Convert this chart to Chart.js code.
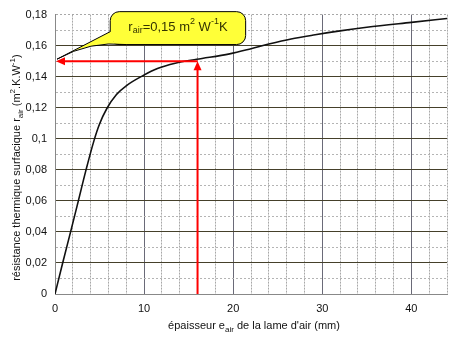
<!DOCTYPE html>
<html>
<head>
<meta charset="utf-8">
<script src="https://cdn.jsdelivr.net/npm/chart.js@4"></script>
<style>
  html, body { margin: 0; padding: 0; background: #fff; }
</style>
</head>
<body>
<canvas id="chart" width="455" height="343"></canvas>
<script>
// air gap thickness (mm) and surface thermal resistance (m².K/W)
const thickness = [0, 0.86, 1.75, 2.62, 3.44, 4.36, 5.0, 5.82, 6.9, 8.03, 9.87, 11.5, 13.5, 15.9, 19.6, 22, 24, 26.5, 29.2, 32, 35, 40, 44];
const resistance = [0, 0.02, 0.04, 0.06, 0.079, 0.0985, 0.1095, 0.1195, 0.1285, 0.1343, 0.1407, 0.1453, 0.1487, 0.1512, 0.1547, 0.158, 0.161, 0.1643, 0.167, 0.1695, 0.1718, 0.175, 0.1775];
const xLabels = [0, 10, 20, 30, 40];
const yLabels = [0, 0.02, 0.04, 0.06, 0.08, 0.1, 0.12, 0.14, 0.16, 0.18];

// read-off point marked with the red arrows
const markX = 16;
const markY = 0.15;

// callout bubble, in axis units
const bubble = { x0: 6.2, x1: 21.4, y0: 0.1607, y1: 0.1819 };

const FONT = "'Liberation Sans', Arial, sans-serif";

const isMajorX = v => Math.abs(v % 10) < 1e-6;
const isMajorY = v => Math.round(v * 100) % 2 === 0;

// text with subscript / superscript pieces: [text, 'sub'|'sup'|'']
function richText(ctx, parts, x, y, size) {
  const small = Math.round(size * 0.7);
  let total = 0;
  const widths = parts.map(([t, m]) => {
    ctx.font = (m ? small : size) + 'px ' + FONT;
    const w = ctx.measureText(t).width;
    total += w;
    return w;
  });
  let cx = x - total / 2;
  parts.forEach(([t, m], i) => {
    ctx.font = (m ? small : size) + 'px ' + FONT;
    const dy = m === 'sub' ? size * 0.3 : m === 'sup' ? -size * 0.4 : 0;
    ctx.fillText(t, cx, y + dy);
    cx += widths[i];
  });
}

function arrowHead(ctx, x, y, dir) {
  // dir: 'up' or 'left'
  ctx.beginPath();
  if (dir === 'up') {
    ctx.moveTo(x, y);
    ctx.lineTo(x - 4, y + 9);
    ctx.lineTo(x + 4, y + 9);
  } else {
    ctx.moveTo(x, y);
    ctx.lineTo(x + 9, y - 4);
    ctx.lineTo(x + 9, y + 4);
  }
  ctx.closePath();
  ctx.fill();
}

const extras = {
  id: 'extras',
  afterDatasetsDraw(chart) {
    const { ctx, scales: { x, y }, chartArea } = chart;
    ctx.save();

    // red read-off arrows
    const mx = x.getPixelForValue(markX);
    const my = y.getPixelForValue(markY);
    const x0 = x.getPixelForValue(0);
    const y0 = y.getPixelForValue(0);
    ctx.strokeStyle = '#ff0000';
    ctx.fillStyle = '#ff0000';
    ctx.lineWidth = 2;
    ctx.beginPath();
    ctx.moveTo(mx, y0);
    ctx.lineTo(mx, my + 8);
    ctx.moveTo(mx, my);
    ctx.lineTo(x0 + 8, my);
    ctx.stroke();
    arrowHead(ctx, mx, my, 'up');
    arrowHead(ctx, x0 + 1, my, 'left');

    // callout bubble
    const L = x.getPixelForValue(bubble.x0);
    const R = x.getPixelForValue(bubble.x1);
    const T = y.getPixelForValue(bubble.y1);
    const B = y.getPixelForValue(bubble.y0);
    ctx.fillStyle = '#ffff38';
    ctx.strokeStyle = '#000';
    ctx.lineWidth = 1;
    ctx.beginPath();
    ctx.roundRect(L, T, R - L, B - T, 9);
    ctx.fill();
    ctx.stroke();

    ctx.beginPath();
    ctx.moveTo(L, T + 20);
    ctx.lineTo(x0 + 2, my - 2);
    ctx.quadraticCurveTo(L - 20, B - 4, L + 16, B);
    ctx.lineTo(L + 16, B - 3);
    ctx.lineTo(L + 3, B - 3);
    ctx.lineTo(L + 1, T + 20);
    ctx.closePath();
    ctx.fill();
    ctx.beginPath();
    ctx.moveTo(L, T + 20);
    ctx.lineTo(x0 + 2, my - 2);
    ctx.quadraticCurveTo(L - 20, B - 4, L + 16, B);
    ctx.stroke();

    ctx.fillStyle = '#333300';
    ctx.textBaseline = 'middle';
    richText(ctx, [['r', ''], ['air', 'sub'], ['=0,15 m', ''], ['2', 'sup'], [' W', ''], ['-1', 'sup'], ['K', '']],
      (L + R) / 2, (T + B) / 2 - 1, 13);

    // axis titles
    ctx.fillStyle = '#111';
    richText(ctx, [['épaisseur e', ''], ['air', 'sub'], [' de la lame d\'air (mm)', '']],
      (chartArea.left + chartArea.right) / 2 + 3, chartArea.bottom + 32, 11);

    ctx.translate(17, chartArea.top + 153);
    ctx.rotate(-Math.PI / 2);
    richText(ctx, [['résistance thermique surfacique r', ''], ['air', 'sub'], [' (m', ''], ['2', 'sup'], ['.K.W', ''], ['-1', 'sup'], [')', '']],
      0, 0, 11);

    ctx.restore();
  }
};

new Chart(document.getElementById('chart'), {
  type: 'line',
  data: {
    datasets: [{
      data: thickness.map((t, i) => ({ x: t, y: resistance[i] })),
      borderColor: '#111',
      borderWidth: 1.6,
      pointRadius: 0,
      cubicInterpolationMode: 'monotone',
      fill: false
    }]
  },
  options: {
    responsive: false,
    animation: false,
    devicePixelRatio: 1,
    layout: { padding: { top: 14, right: 2, left: 0, bottom: 0 } },
    plugins: { legend: { display: false }, tooltip: { enabled: false } },
    scales: {
      x: {
        type: 'linear',
        min: 0,
        max: 44,
        afterFit: s => { s.height = 49; },
        ticks: {
          stepSize: 2,
          autoSkip: false,
          maxRotation: 0,
          padding: 8,
          color: '#111',
          font: { family: FONT, size: 11 },
          callback: v => xLabels.includes(v) ? String(v) : ''
        },
        grid: {
          drawTicks: false,
          color: c => c.tick && isMajorX(c.tick.value) ? '#6a6a78' : '#a8a8a8',
          lineWidth: 1
        },
        border: {
          color: '#888',
          dash: c => (c.tick && !isMajorX(c.tick.value)) ? [2, 1] : []
        }
      },
      y: {
        min: 0,
        max: 0.18,
        afterFit: s => { s.width = 55; },
        ticks: {
          stepSize: 0.01,
          autoSkip: false,
          padding: 8,
          color: '#111',
          font: { family: FONT, size: 11 },
          callback: v => {
            const r = Math.round(v * 100) / 100;
            return yLabels.includes(r) ? String(r).replace('.', ',') : '';
          }
        },
        grid: {
          drawTicks: false,
          color: c => {
            if (!c.tick) return '#888';
            const v = c.tick.value;
            if (Math.round(v * 100) === 18) return '#a8a8a8';
            return isMajorY(v) && v > 0 ? '#45402a' : '#b4b4b4';
          },
          lineWidth: 1
        },
        border: {
          color: '#888',
          dash: c => (c.tick && (!isMajorY(c.tick.value) || Math.round(c.tick.value * 100) === 18)) ? [2, 2] : []
        }
      }
    }
  },
  plugins: [extras]
});
</script>
</body>
</html>
